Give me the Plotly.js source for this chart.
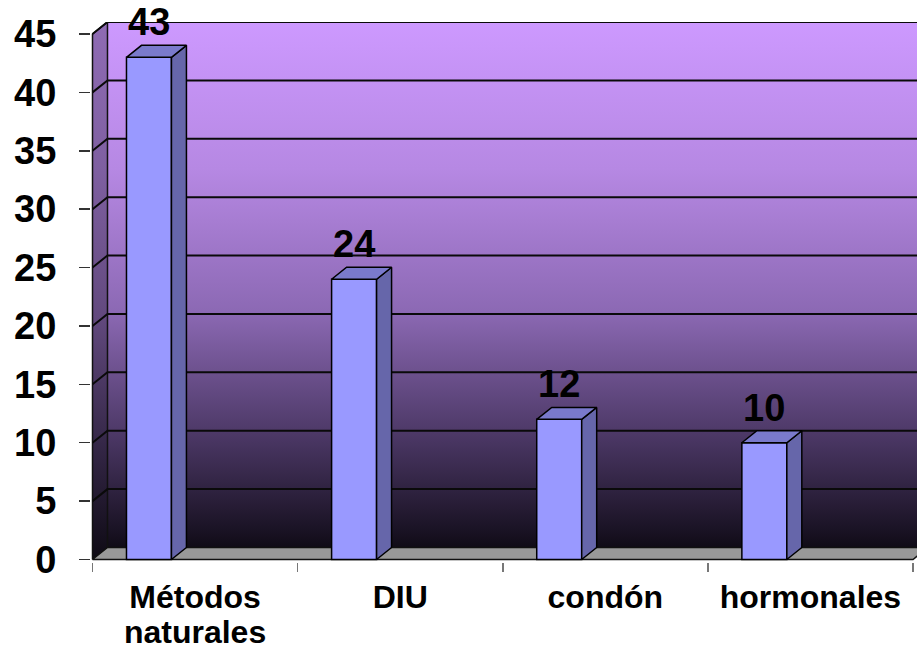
<!DOCTYPE html>
<html>
<head>
<meta charset="utf-8">
<script src="https://cdn.plot.ly/plotly-3.0.1.min.js"></script>
<style>
  html, body { margin: 0; padding: 0; background: #ffffff; }
  #chart { width: 917px; height: 651px; }
</style>
</head>
<body>
<div id="chart"></div>
<script>
// ---- data ----
const categories = ['Métodos<br>naturales', 'DIU', 'condón', 'hormonales'];
const values = [43, 24, 12, 10];
const yTicks = [0, 5, 10, 15, 20, 25, 30, 35, 40, 45];
const yMax = 45;

// ---- geometry (pixels) ----
const W = 917, H = 651;
const frontLeft = 92, frontRight = 913, zeroY = 560, topY = 34;
const depthPx = 15, depthPy = 12, pad = 1.5;
const ux = (frontRight - frontLeft) / categories.length;   // px per x unit
const uy = (zeroY - topY) / yMax;                          // px per y unit
const DX = depthPx / ux, DY = depthPy / uy;
const x0 = -0.5, x1 = categories.length - 0.5;
const xRange = [x0 - pad / ux, x0 + (W - frontLeft) / ux];
const yRange = [-pad / uy, yMax + DY];

const barWidth = 45 / ux;
const barOffset = -0.5 + (126 - frontLeft) / ux;   // left edge relative to category centre
const idx = categories.map((c, i) => i);
const line1 = categories.map(c => c.split('<br>')[0]);
const line2 = categories.map(c => c.split('<br>')[1] || '');

const font = 'Arial, "Liberation Sans", sans-serif';
const catFontSize = 32;

// back wall
const backWall = {
  type: 'scatter', mode: 'lines', fill: 'toself', hoverinfo: 'skip', showlegend: false,
  x: [x0 + DX, x1 + DX, x1 + DX, x0 + DX, x0 + DX],
  y: [DY, DY, yMax + DY, yMax + DY, DY],
  line: { color: '#222222', width: 1 },
  fillgradient: {
    type: 'vertical',
    colorscale: [[0, 'rgb(16,11,22)'], [0.03, 'rgb(25,18,35)'], [0.2, 'rgb(72,53,97)'],
                 [0.45, 'rgb(140,105,180)'], [0.72, 'rgb(182,136,227)'], [1, 'rgb(205,153,255)']]
  },
  zorder: 0
};
// left wall
const leftWall = {
  type: 'scatter', mode: 'lines', fill: 'toself', hoverinfo: 'skip', showlegend: false,
  x: [x0, x0, x0 + DX, x0 + DX, x0],
  y: [0, yMax, yMax + DY, DY, 0],
  line: { color: '#111111', width: 1.5 },
  fillgradient: {
    type: 'vertical',
    colorscale: [[0, 'rgb(14,10,20)'], [0.2, 'rgb(50,37,68)'], [0.45, 'rgb(98,73,126)'],
                 [0.72, 'rgb(126,95,160)'], [1, 'rgb(143,107,180)']]
  },
  zorder: 1
};
// floor
const floor = {
  type: 'scatter', mode: 'lines', fill: 'toself', hoverinfo: 'skip', showlegend: false,
  x: [x0, x1, x1 + DX, x0 + DX, x0],
  y: [0, 0, DY, DY, 0],
  fillcolor: '#999999',
  line: { color: '#111111', width: 1.5 },
  zorder: 1
};
// gridlines on left and back walls
const gx = [], gy = [];
yTicks.forEach(t => {
  if (t === 0) return;
  gx.push(x0, x0 + DX, x1 + DX, null);
  gy.push(t, t + DY, t + DY, null);
});
const grid = {
  type: 'scatter', mode: 'lines', hoverinfo: 'skip', showlegend: false,
  x: gx, y: gy, line: { color: '#0a0a0a', width: 2 }, zorder: 2
};
// bars (front faces)
const bars = {
  type: 'bar', x: idx, y: values, width: barWidth, offset: barOffset,
  marker: { color: '#9999FF', line: { color: '#000000', width: 1.5 } },
  hoverinfo: 'y', showlegend: false, zorder: 3
};
// side and top faces
const sx = [], sy = [], tx = [], ty = [];
values.forEach((v, i) => {
  const xl = i + barOffset, xr = xl + barWidth;
  sx.push(xr, xr, xr + DX, xr + DX, xr, null);
  sy.push(0, v, v + DY, DY, 0, null);
  tx.push(xl, xr, xr + DX, xl + DX, xl, null);
  ty.push(v, v, v + DY, v + DY, v, null);
});
const sides = {
  type: 'scatter', mode: 'lines', fill: 'toself', hoverinfo: 'skip', showlegend: false,
  x: sx, y: sy, fillcolor: '#6666AA', line: { color: '#000000', width: 1.5 }, zorder: 4
};
const tops = {
  type: 'scatter', mode: 'lines', fill: 'toself', hoverinfo: 'skip', showlegend: false,
  x: tx, y: ty, fillcolor: '#7A7ACC', line: { color: '#000000', width: 1.5 }, zorder: 4
};
// invisible traces carrying the category-label axes
const carrier2 = { type: 'scatter', mode: 'none', x: [0], y: [0], xaxis: 'x2', yaxis: 'y', hoverinfo: 'skip', showlegend: false };
const carrier3 = { type: 'scatter', mode: 'none', x: [0], y: [0], xaxis: 'x3', yaxis: 'y', hoverinfo: 'skip', showlegend: false };

const annotations = values.map((v, i) => ({
  x: i + barOffset + barWidth / 2, y: v + DY, xref: 'x', yref: 'y',
  text: String(v), showarrow: false, yanchor: 'bottom', yshift: 0,
  font: { family: font, size: 38, color: '#000000', weight: 'bold' }
}));

const catAxis = (standoff, text) => ({
  type: 'linear', range: xRange, overlaying: 'x', anchor: 'y', side: 'bottom',
  tickmode: 'array', tickvals: idx, ticktext: text, ticks: '',
  showgrid: false, zeroline: false, showline: false, fixedrange: true,
  tickfont: { family: font, size: catFontSize, color: '#000000', weight: 'bold' },
  ticklabelstandoff: standoff
});

const layout = {
  width: W, height: H, autosize: false,
  paper_bgcolor: '#ffffff', plot_bgcolor: '#ffffff',
  margin: { l: frontLeft - pad, r: 0, t: zeroY - (yRange[1] - 0) * uy, b: H - zeroY - pad, pad: 0 },
  showlegend: false,
  xaxis: {
    type: 'linear', range: xRange, tickmode: 'array',
    tickvals: idx.map(v => v - 0.5).concat([x1]),
    ticks: 'outside', ticklen: 9, tickcolor: '#777777', tickwidth: 1.5,
    showticklabels: false, showgrid: false, zeroline: false,
    showline: true, linecolor: '#000000', linewidth: 1.5, fixedrange: true
  },
  xaxis2: catAxis(14, line1),
  xaxis3: catAxis(49, line2),
  yaxis: {
    range: yRange, tickmode: 'array', tickvals: yTicks,
    ticks: 'outside', ticklen: 11, tickcolor: '#333333', tickwidth: 1.5,
    showgrid: false, zeroline: false, showline: false,
    tickfont: { family: font, size: 38, color: '#000000', weight: 'bold' },
    ticklabelstandoff: 15, fixedrange: true
  },
  annotations: annotations
};

Plotly.newPlot('chart', [backWall, leftWall, floor, grid, bars, sides, tops, carrier2, carrier3], layout,
  { displayModeBar: false, staticPlot: true });
</script>
</body>
</html>
